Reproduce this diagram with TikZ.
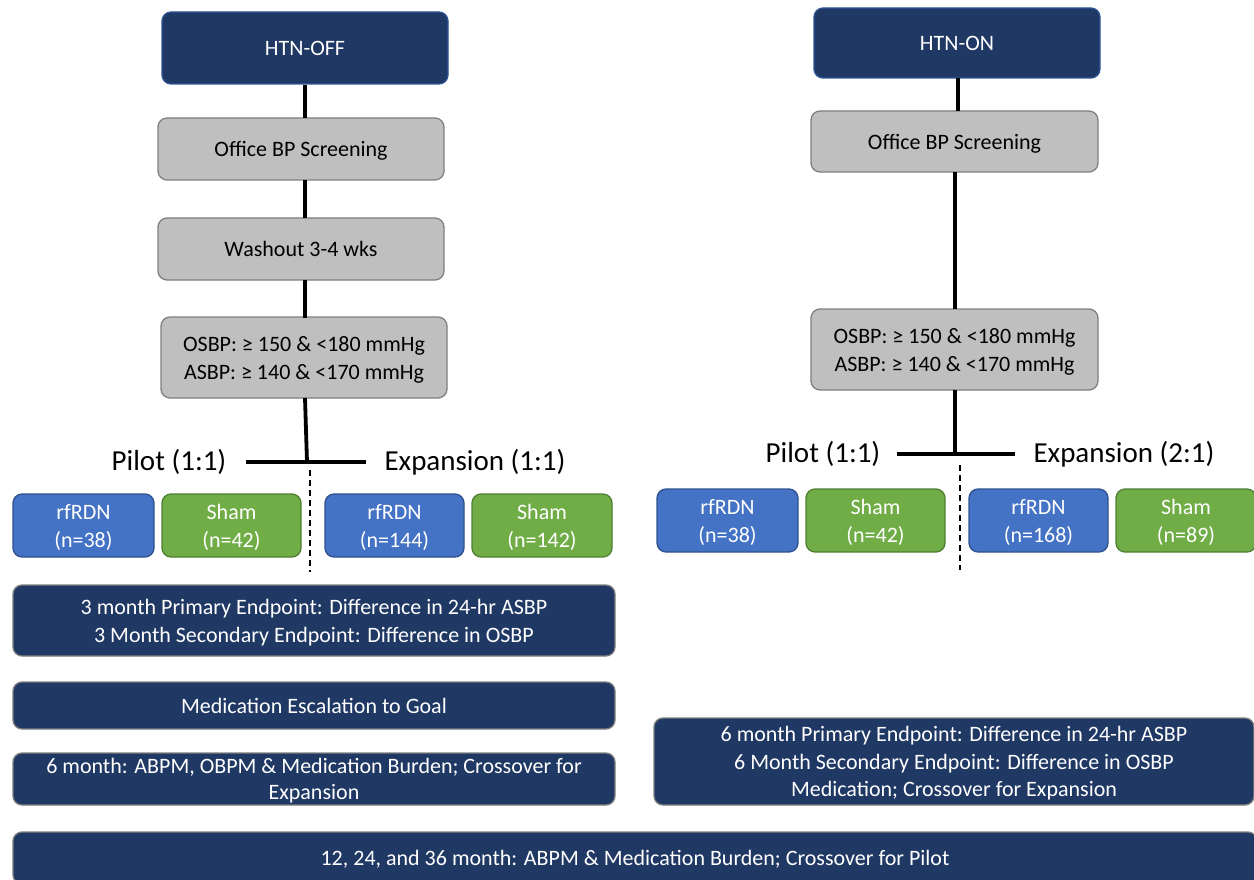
\documentclass[tikz,border=0pt]{standalone}
\usepackage{fontspec}
\setmainfont{Carlito}
\definecolor{navy}{HTML}{203864}
\definecolor{navyedge}{HTML}{2F5597}
\definecolor{greyedge}{HTML}{7F7F7F}
\definecolor{greyfill}{HTML}{BFBFBF}
\definecolor{bluefill}{HTML}{4472C4}
\definecolor{blueedge}{HTML}{2F528F}
\definecolor{greenfill}{HTML}{70AD47}
\definecolor{greenedge}{HTML}{507E32}
\begin{document}
\begin{tikzpicture}[x=1pt,y=-1pt,
  base/.style={rectangle, rounded corners=9pt, line width=1.3pt, align=center, inner sep=2pt,
    text depth=0pt, font=\fontsize{22}{28}\selectfont},
  topbox/.style={base, fill=navy, draw=navyedge, text=white},
  graybox/.style={base, fill=greyfill, draw=greyedge, text=black},
  bluebox/.style={base, fill=bluefill, draw=blueedge, text=white, minimum height=63pt},
  greenbox/.style={base, fill=greenfill, draw=greenedge, text=white, minimum height=63pt},
  endbox/.style={base, fill=navy, draw=greyedge, text=white},
  armlabel/.style={font=\fontsize{29}{34}\selectfont, inner sep=0pt},
  conn/.style={line width=3.8pt, black},
  divider/.style={line width=1.5pt, black, dash pattern=on 6pt off 4pt}]
\useasboundingbox (0,0) rectangle (1254,880);

% ---- Left column: HTN-OFF
\node[topbox, minimum width=286pt, minimum height=72pt] (offtop) at (305,48) {HTN-OFF};
\node[graybox, minimum width=286pt, minimum height=62pt] (offscr) at (301,149) {Office BP Screening};
\node[graybox, minimum width=286pt, minimum height=62pt] (offwash) at (301,249) {Washout 3-4 wks};
\node[graybox, minimum width=286pt, minimum height=81pt] (offcrit) at (304,357.5) {OSBP: ≥ 150 \& <180 mmHg\\ASBP: ≥ 140 \& <170 mmHg};
\coordinate (offj) at (307,462);
\coordinate (offl) at (246,462);
\coordinate (offr) at (366,462);
\node[armlabel] (offpilot) at (169,462) {Pilot (1:1)};
\node[armlabel] (offexp) at (475,462) {Expansion (1:1)};
\coordinate (offd1) at (310,470);
\coordinate (offd2) at (310,572);

\draw[conn] (offtop.south -| 305,0) -- (305,118);
\draw[conn] (305,180) -- (305,218);
\draw[conn] (305,280) -- (305,318);
\draw[conn] (305,398) -- (offj);
\draw[conn] (offl) -- (offr);
\draw[divider] (offd1) -- (offd2);

\node[bluebox, minimum width=141pt] (offrf1) at (83.5,525.5) {rfRDN\\(n=38)};
\node[greenbox, minimum width=139pt] (offsh1) at (231.5,525.5) {Sham\\(n=42)};
\node[bluebox, minimum width=139pt] (offrf2) at (394.5,525.5) {rfRDN\\(n=144)};
\node[greenbox, minimum width=140pt] (offsh2) at (542,525.5) {Sham\\(n=142)};

\node[endbox, minimum width=602pt, minimum height=71pt] (offend3) at (314,620.5) {3 month Primary Endpoint: Difference in 24-hr ASBP\\3 Month Secondary Endpoint: Difference in OSBP};
\node[endbox, minimum width=602pt, minimum height=47pt] (offmed) at (314,705.5) {Medication Escalation to Goal};
\node[endbox, minimum width=602pt, minimum height=52pt, font=\fontsize{22}{26.5}\selectfont] (offend6) at (314,779) {6 month: ABPM, OBPM \& Medication Burden; Crossover for\\Expansion};
\node[endbox, minimum width=1244pt, minimum height=52pt] (longterm) at (635,858) {12, 24, and 36 month: ABPM \& Medication Burden; Crossover for Pilot};

% ---- Right column: HTN-ON
\node[topbox, minimum width=286pt, minimum height=70pt] (ontop) at (957,43) {HTN-ON};
\node[graybox, minimum width=287pt, minimum height=61pt] (onscr) at (954.5,141.5) {Office BP Screening};
\node[graybox, minimum width=287pt, minimum height=81pt] (oncrit) at (954.5,349.5) {OSBP: ≥ 150 \& <180 mmHg\\ASBP: ≥ 140 \& <170 mmHg};
\coordinate (onj) at (955,454);
\coordinate (onl) at (897,454);
\coordinate (onr) at (1015,454);
\node[armlabel] (onpilot) at (823,454) {Pilot (1:1)};
\node[armlabel] (onexp) at (1124,454) {Expansion (2:1)};
\coordinate (ond1) at (960,465);
\coordinate (ond2) at (960,570);

\draw[conn] (958,78) -- (958,111);
\draw[conn] (955,172) -- (955,309);
\draw[conn] (955,390) -- (onj);
\draw[conn] (onl) -- (onr);
\draw[divider] (ond1) -- (ond2);

\node[bluebox, minimum width=141pt] (onrf1) at (727.5,520.5) {rfRDN\\(n=38)};
\node[greenbox, minimum width=139pt] (onsh1) at (875.5,520.5) {Sham\\(n=42)};
\node[bluebox, minimum width=139pt] (onrf2) at (1038.5,520.5) {rfRDN\\(n=168)};
\node[greenbox, minimum width=140pt] (onsh2) at (1186,520.5) {Sham\\(n=89)};

\node[endbox, minimum width=600pt, minimum height=87pt, font=\fontsize{22}{27.5}\selectfont] (onend6) at (954,761.5) {6 month Primary Endpoint: Difference in 24-hr ASBP\\6 Month Secondary Endpoint: Difference in OSBP\\Medication; Crossover for Expansion};
\end{tikzpicture}
\end{document}
